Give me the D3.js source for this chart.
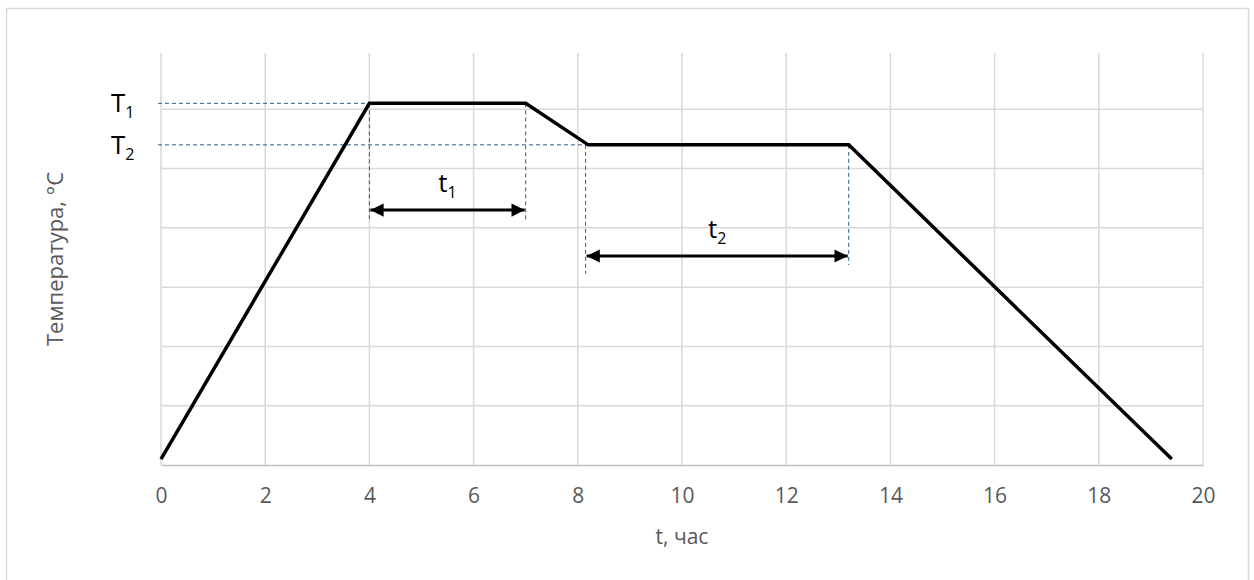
<!DOCTYPE html>
<html>
<head>
<meta charset="utf-8">
<script src="https://cdn.jsdelivr.net/npm/d3@7"></script>
<style>
  html, body { margin: 0; padding: 0; background: #fff; }
  svg { display: block; font-family: 'Open Sans', 'Liberation Sans', sans-serif; }
</style>
</head>
<body>
<div id="chart"></div>
<script>
// ---- data ----
const times = [0, 4, 7, 8.2, 13.2, 19.4];          // t, hours
const temps = [20, 1220, 1220, 1080, 1080, 20];     // temperature
const xTicks = [0, 2, 4, 6, 8, 10, 12, 14, 16, 18, 20];
const yGrid = [200, 400, 600, 800, 1000, 1200];
const T1 = 1220, T2 = 1080;
// dimension arrows
const spans = [
    { from: 4, to: 7, y: 860, drop1: 830, drop2: 820, sub: '1' },
    { from: 8.15, to: 13.2, y: 705, drop1: 645, drop2: 675, sub: '2' }
];

const W = 1254, H = 580;
const plot = { left: 161, right: 1203, top: 50, bottom: 465 };

const svg = d3.select('#chart').append('svg')
    .attr('width', W).attr('height', H);

svg.append('rect')
    .attr('x', 6.5).attr('y', 8.5)
    .attr('width', 1242).attr('height', 580)
    .attr('fill', '#fff').attr('stroke', '#d9d9d9').attr('stroke-width', 1.5);

const x = d3.scaleLinear().domain([0, 20]).range([plot.left, plot.right]);
const y = d3.scaleLinear().domain([0, 1400]).range([plot.bottom, plot.top]);

const defs = svg.append('defs');
defs.append('marker')
    .attr('id', 'head')
    .attr('viewBox', '0 0 10 10')
    .attr('refX', 10).attr('refY', 5)
    .attr('markerWidth', 5).attr('markerHeight', 4.4)
    .attr('orient', 'auto-start-reverse')
    .attr('markerUnits', 'strokeWidth')
    .append('path').attr('d', 'M0,0L10,5L0,10Z').attr('fill', '#000');

// grid
const grid = svg.append('g');
grid.selectAll('line.v').data(xTicks).join('line')
    .attr('x1', d => x(d)).attr('x2', d => x(d))
    .attr('y1', 53).attr('y2', plot.bottom)
    .attr('stroke', '#d9d9d9').attr('stroke-width', 1.5);
grid.selectAll('line.h').data(yGrid).join('line')
    .attr('x1', plot.left).attr('x2', plot.right)
    .attr('y1', d => y(d)).attr('y2', d => y(d))
    .attr('stroke', '#d9d9d9').attr('stroke-width', 1.5);

// x axis
const xAxis = d3.axisBottom(x).tickValues(xTicks).tickSize(0).tickPadding(23);
const ax = svg.append('g').attr('transform', `translate(0,${plot.bottom})`).call(xAxis);
ax.attr('font-size', null).attr('font-family', null);
ax.select('.domain').attr('stroke', '#bfbfbf').attr('stroke-width', 1.5);
ax.selectAll('text')
    .style('font-size', '21px').attr('fill', '#595959')
    .style('font-family', "'Open Sans', sans-serif");

svg.append('text')
    .attr('x', (plot.left + plot.right) / 2).attr('y', 544)
    .attr('text-anchor', 'middle')
    .style('font-size', '21px').attr('fill', '#595959')
    .text('t, час');

svg.append('text')
    .attr('transform', 'translate(63,259) rotate(-90)')
    .attr('text-anchor', 'middle')
    .style('font-size', '22px').attr('fill', '#595959')
    .text('Температура, °C');

// dashed helper lines
const dash = svg.append('g')
    .attr('stroke', '#2f5b8c').attr('stroke-width', 1)
    .attr('stroke-dasharray', '4,3').attr('fill', 'none');
dash.append('line').attr('x1', 158).attr('x2', x(times[1]))
    .attr('y1', y(T1)).attr('y2', y(T1));
dash.append('line').attr('x1', 158).attr('x2', x(spans[1].from))
    .attr('y1', y(T2)).attr('y2', y(T2));
spans.forEach(s => {
    const top = s.sub === '1' ? T1 : T2;
    dash.append('line').attr('x1', x(s.from)).attr('x2', x(s.from))
        .attr('y1', y(top)).attr('y2', y(s.drop1));
    dash.append('line').attr('x1', x(s.to)).attr('x2', x(s.to))
        .attr('y1', y(top)).attr('y2', y(s.drop2));
});

// main curve
const line = d3.line().x((d, i) => x(times[i])).y(d => y(d));
svg.append('path')
    .datum(temps)
    .attr('d', line)
    .attr('fill', 'none')
    .attr('stroke', '#000')
    .attr('stroke-width', 3.5)
    .attr('stroke-linejoin', 'miter');

// arrows
spans.forEach(s => {
    svg.append('line')
        .attr('x1', x(s.from) + 1).attr('x2', x(s.to) - 1)
        .attr('y1', y(s.y)).attr('y2', y(s.y))
        .attr('stroke', '#000').attr('stroke-width', 3)
        .attr('marker-start', 'url(#head)')
        .attr('marker-end', 'url(#head)');
    const lbl = svg.append('text')
        .attr('x', (x(s.from) + x(s.to)) / 2)
        .attr('y', y(s.y) - 18)
        .attr('text-anchor', 'middle')
        .style('font-size', '26px').attr('fill', '#000');
    lbl.append('tspan').text('t');
    lbl.append('tspan').style('font-size', '16px').attr('dy', 6).text(s.sub);
});

// T labels
[[T1, '1'], [T2, '2']].forEach(([v, sub]) => {
    const t = svg.append('text')
        .attr('x', 111).attr('y', y(v) + 9)
        .style('font-size', '26px').attr('fill', '#000');
    t.append('tspan').text('T');
    t.append('tspan').style('font-size', '16px').attr('dy', 6).text(sub);
});
</script>
</body>
</html>
